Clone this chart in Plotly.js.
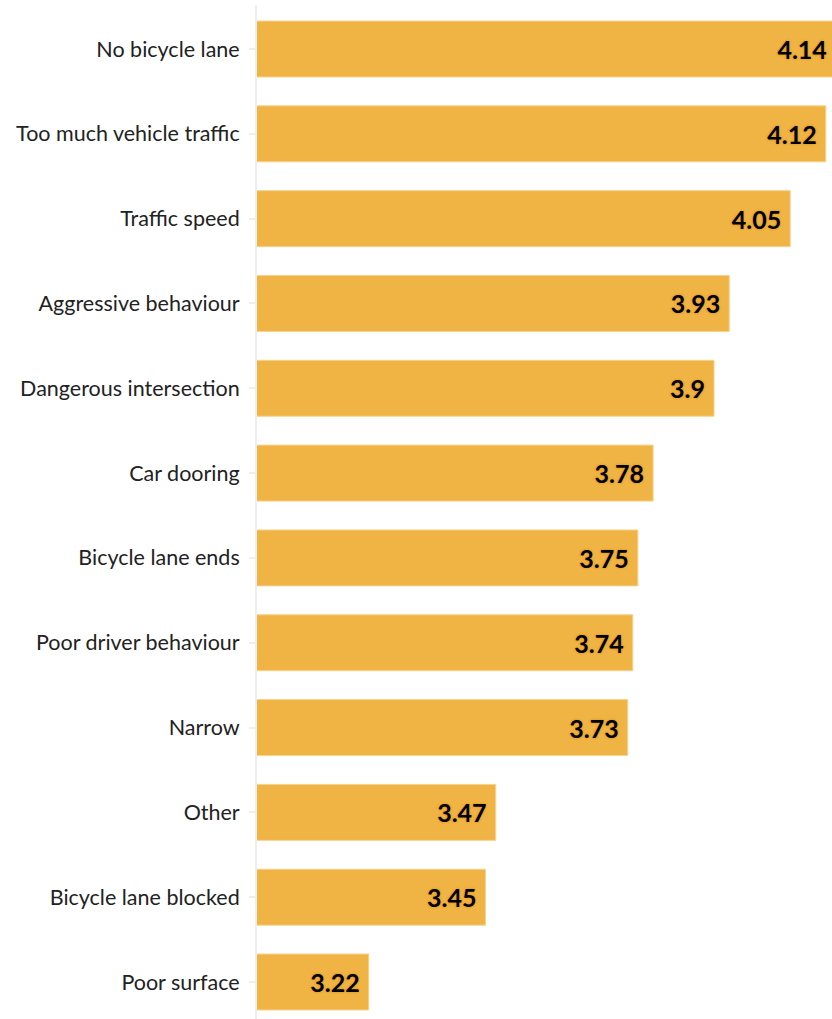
<!DOCTYPE html>
<html>
<head>
<meta charset="utf-8">
<script src="https://cdn.plot.ly/plotly-3.0.1.min.js"></script>
<style>
html,body{margin:0;padding:0;background:#fff;overflow:hidden;}
#chart{width:841px;height:1019px;}
</style>
</head>
<body>
<div id="chart"></div>
<script>
const categories = [
  "No bicycle lane",
  "Too much vehicle traffic",
  "Traffic speed",
  "Aggressive behaviour",
  "Dangerous intersection",
  "Car dooring",
  "Bicycle lane ends",
  "Poor driver behaviour",
  "Narrow",
  "Other",
  "Bicycle lane blocked",
  "Poor surface"
];
const scores = [4.14, 4.12, 4.05, 3.93, 3.9, 3.78, 3.75, 3.74, 3.73, 3.47, 3.45, 3.22];
const valueLabels = ["4.14", "4.12", "4.05", "3.93", "3.9", "3.78", "3.75", "3.74", "3.73", "3.47", "3.45", "3.22"];

const trace = {
  type: 'bar',
  orientation: 'h',
  y: categories,
  x: scores,
  text: valueLabels,
  textposition: 'inside',
  insidetextanchor: 'end',
  texttemplate: '%{text}\u00a0',
  hoverinfo: 'none',
  textfont: {
    family: 'Lato, "Open Sans", sans-serif',
    size: 25,
    color: '#000',
    weight: 'bold',
    shadow: '0px 0px 2px #E29A1C, 0px 0px 3px #E29A1C'
  },
  marker: {
    color: '#F0B445',
    line: {color: '#F6D28F', width: 1}
  },
  cliponaxis: false
};

const layout = {
  width: 841,
  height: 1019,
  margin: {l: 257, r: 0, t: 5, b: 0},
  paper_bgcolor: '#fff',
  plot_bgcolor: '#fff',
  showlegend: false,
  bargap: 0.34,
  font: {family: 'Lato, "Open Sans", sans-serif', size: 21.5, color: '#222'},
  xaxis: {
    range: [3, 4.15],
    visible: false,
    showgrid: false,
    zeroline: false
  },
  yaxis: {
    type: 'category',
    range: [11.436, -0.519],
    showline: true,
    linecolor: '#eeeeee',
    linewidth: 2,
    ticks: 'outside',
    ticklen: 6,
    tickcolor: '#eeeeee',
    tickwidth: 2,
    ticklabelstandoff: 5,
    tickfont: {size: 21.5, color: '#222'},
    showgrid: false,
    zeroline: false
  }
};

Plotly.newPlot('chart', [trace], layout, {displayModeBar: false, staticPlot: true});
</script>
</body>
</html>
